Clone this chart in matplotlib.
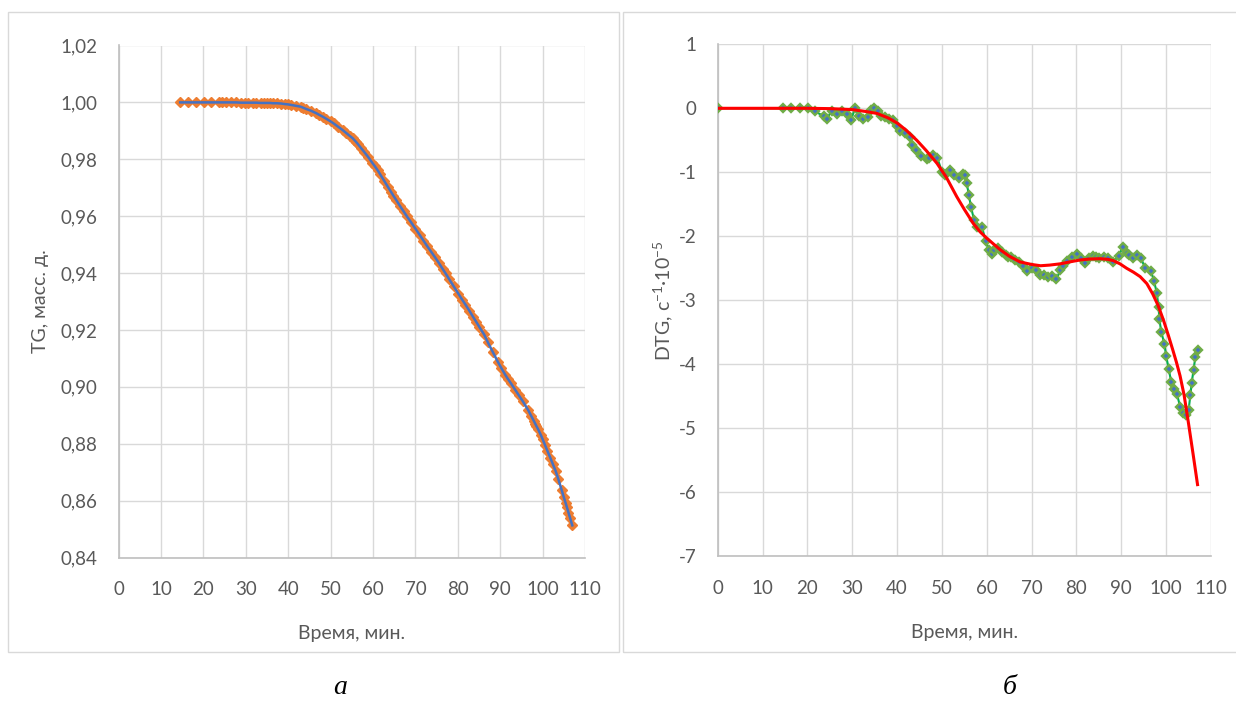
import matplotlib.pyplot as plt
from matplotlib.patches import Rectangle

# time points, min (shared by TG and DTG series)
time_min = [14.5, 16.4, 18.3, 20.1, 21.7, 23.6, 24.3, 25.4, 26.5, 27.7,
            28.8, 29.7, 30.6, 31.6, 32.5, 33.5, 34.2, 34.9, 35.7, 36.4,
            37.3, 38.3, 39.2, 39.9, 40.7, 41.8, 42.9, 43.4, 44.2, 45.3,
            46.6, 47.2, 48.1, 49.0, 50.0, 50.7, 51.8, 52.8, 53.7, 54.6,
            55.2, 55.5, 56.0, 56.5, 57.2, 57.9, 58.9, 59.8, 60.4, 61.1,
            61.6, 62.6, 63.5, 64.3, 64.8, 65.5, 66.3, 67.2, 68.0, 68.9,
            70.0, 71.0, 71.9, 72.8, 73.7, 74.6, 75.5, 76.4, 77.1, 77.9,
            79.0, 80.1, 81.0, 81.8, 82.7, 83.6, 84.4, 85.1, 86.2, 87.1,
            88.2, 89.4, 90.3, 91.2, 91.8, 92.5, 93.6, 94.4, 95.3, 96.6,
            97.3, 97.9, 98.3, 98.5, 98.9, 99.6, 100.0, 100.6, 101.1, 101.8,
            102.4, 103.1, 103.7, 104.5, 105.0, 105.4, 105.7, 106.1, 106.5, 107.0]

tg = [1.0000, 1.0000, 1.0000, 1.0000, 1.0000, 1.0000, 1.0000, 1.0000, 1.0000, 1.0000,
      0.9999, 0.9999, 0.9999, 0.9999, 0.9999, 0.9998, 0.9998, 0.9998, 0.9998, 0.9997,
      0.9997, 0.9996, 0.9994, 0.9993, 0.9991, 0.9988, 0.9985, 0.9982, 0.9977, 0.9971,
      0.9962, 0.9957, 0.9950, 0.9942, 0.9933, 0.9926, 0.9914, 0.9903, 0.9892, 0.9881,
      0.9874, 0.9869, 0.9861, 0.9852, 0.9839, 0.9826, 0.9807, 0.9788, 0.9776, 0.9761,
      0.9749, 0.9725, 0.9703, 0.9684, 0.9672, 0.9656, 0.9637, 0.9617, 0.9599, 0.9580,
      0.9556, 0.9534, 0.9514, 0.9494, 0.9475, 0.9456, 0.9436, 0.9415, 0.9399, 0.9380,
      0.9354, 0.9328, 0.9307, 0.9289, 0.9268, 0.9246, 0.9227, 0.9210, 0.9184, 0.9156,
      0.9124, 0.9089, 0.9065, 0.9042, 0.9028, 0.9013, 0.8988, 0.8970, 0.8950, 0.8918,
      0.8898, 0.8881, 0.8869, 0.8863, 0.8852, 0.8830, 0.8816, 0.8794, 0.8776, 0.8751,
      0.8729, 0.8703, 0.8676, 0.8637, 0.8612, 0.8593, 0.8578, 0.8558, 0.8538, 0.8513]

# DTG has an extra point at t = 0
dtg_time = [0.0] + time_min
dtg = [0.0,
       0.0, 0.0, 0.0, 0.0, -0.05, -0.12, -0.17, -0.04, -0.09, -0.04,
       -0.09, -0.19, 0.0, -0.12, -0.16, -0.14, -0.02, 0.0, -0.04, -0.12,
       -0.14, -0.16, -0.18, -0.28, -0.35, -0.39, -0.45, -0.57, -0.65, -0.75,
       -0.80, -0.78, -0.73, -0.78, -0.99, -1.04, -0.97, -1.05, -1.09, -1.02,
       -1.04, -1.16, -1.35, -1.55, -1.75, -1.86, -1.85, -2.08, -2.21, -2.28,
       -2.22, -2.19, -2.25, -2.29, -2.32, -2.33, -2.37, -2.40, -2.46, -2.54,
       -2.50, -2.52, -2.60, -2.60, -2.63, -2.62, -2.67, -2.53, -2.46, -2.38,
       -2.33, -2.28, -2.34, -2.41, -2.34, -2.31, -2.33, -2.34, -2.32, -2.34,
       -2.40, -2.31, -2.17, -2.26, -2.29, -2.34, -2.29, -2.34, -2.50, -2.54,
       -2.70, -2.88, -3.10, -3.30, -3.49, -3.68, -3.87, -4.08, -4.27, -4.38,
       -4.46, -4.66, -4.76, -4.79, -4.72, -4.48, -4.29, -4.09, -3.89, -3.77]

# model curve (red)
fit_t = [0, 10, 20, 25, 30, 33, 35.5, 38, 40, 42, 44.4, 46.5, 48.9, 51, 53.3, 55,
         57, 58.5, 60, 61.5, 63, 65, 67.4, 70, 72, 74, 76.4, 78.5, 80.8, 83, 85.3,
         87, 88.2, 89.7, 91.2, 92.7, 94.2, 95.7, 97, 98.2, 99.4, 100.5, 101.5,
         102.3, 103.1, 104, 105, 106, 107]
fit_dtg = [0, 0, 0, -0.005, -0.02, -0.05, -0.08, -0.15, -0.23, -0.34, -0.50, -0.66,
           -0.86, -1.08, -1.38, -1.58, -1.80, -1.93, -2.03, -2.12, -2.21, -2.31, -2.40,
           -2.44, -2.46, -2.45, -2.43, -2.40, -2.37, -2.355, -2.35, -2.36, -2.38, -2.43,
           -2.50, -2.56, -2.63, -2.74, -2.90, -3.08, -3.31, -3.55, -3.78, -3.97, -4.18,
           -4.48, -4.93, -5.40, -5.88]

x_ticks = list(range(0, 111, 10))
tg_ticks = [0.84, 0.86, 0.88, 0.90, 0.92, 0.94, 0.96, 0.98, 1.00, 1.02]
dtg_ticks = list(range(-7, 2))

plt.rcParams['font.family'] = ['Lato', 'Noto Sans', 'DejaVu Sans']
plt.rcParams['axes.unicode_minus'] = False
TXT = '#595959'
GRID = '#D9D9D9'
SPINE = '#BFBFBF'

fig = plt.figure(figsize=(12.36, 7.02), dpi=100)
W, H = 1236, 702

# frames around each chart
for x0, x1 in [(8, 619), (623, 1240)]:
    fig.patches.append(Rectangle((x0 / W, 1 - 652 / H), (x1 - x0) / W, 640 / H,
                                 transform=fig.transFigure, fill=False,
                                 edgecolor=GRID, lw=1.0))


def style(ax):
    ax.grid(True, color=GRID, lw=1.0)
    ax.set_axisbelow(True)
    for s in ['top', 'right']:
        ax.spines[s].set_visible(False)
    for s in ['left', 'bottom']:
        ax.spines[s].set_color(SPINE)
        ax.spines[s].set_linewidth(1.2)
    ax.tick_params(length=0, labelsize=13.5, colors=TXT)
    ax.tick_params(axis='y', pad=15)
    ax.tick_params(axis='x', pad=17)
    ax.set_xlim(0, 110)
    ax.set_xticks(x_ticks)


ax1 = fig.add_axes([118.7 / W, 1 - 557.5 / H, (585 - 118.7) / W, 512 / H])
style(ax1)
ax1.plot(time_min, tg, linestyle='none', marker='D', ms=4.6, color='#ED7D31',
         mec='#ED7D31', mew=1.0, zorder=3)
ax1.plot(time_min, tg, color='#4472C4', lw=1.8, zorder=4)
ax1.set_ylim(0.84, 1.02)
ax1.set_yticks(tg_ticks)
ax1.set_yticklabels([f'{v:.2f}'.replace('.', ',') for v in tg_ticks])
ax1.set_xlabel('Время, мин.', fontsize=14, color=TXT)
ax1.set_ylabel('TG, масс. д.', fontsize=14, color=TXT)
ax1.xaxis.set_label_coords(0.5, -0.132)
ax1.yaxis.set_label_coords(-0.149, 0.5)

ax2 = fig.add_axes([717.7 / W, 1 - 556.3 / H, (1211 - 717.7) / W, 512 / H])
style(ax2)
ax2.plot(dtg_time, dtg, color='#00B050', lw=1.5, marker='D', ms=4.4,
         mfc='#4472C4', mec='#70AD47', mew=1.7, zorder=3)
ax2.plot(fit_t, fit_dtg, color='#FF0000', lw=2.2, zorder=4)
ax2.set_ylim(-7, 1)
ax2.set_yticks(dtg_ticks)
ax2.set_xlabel('Время, мин.', fontsize=14, color=TXT)
ax2.set_ylabel(r'DTG, с$^{\mathregular{-1}}$·10$^{\mathregular{-5}}$',
               fontsize=14, color=TXT)
ax2.xaxis.set_label_coords(0.5, -0.132)
ax2.yaxis.set_label_coords(-0.084, 0.5)

fig.text(340 / W, 1 - 688 / H, 'а', fontsize=20, style='italic',
         family='Liberation Serif', ha='center', va='center')
fig.text(1010 / W, 1 - 688 / H, 'б', fontsize=20, style='italic',
         family='Liberation Serif', ha='center', va='center')

fig.savefig('out.png', dpi=100)
